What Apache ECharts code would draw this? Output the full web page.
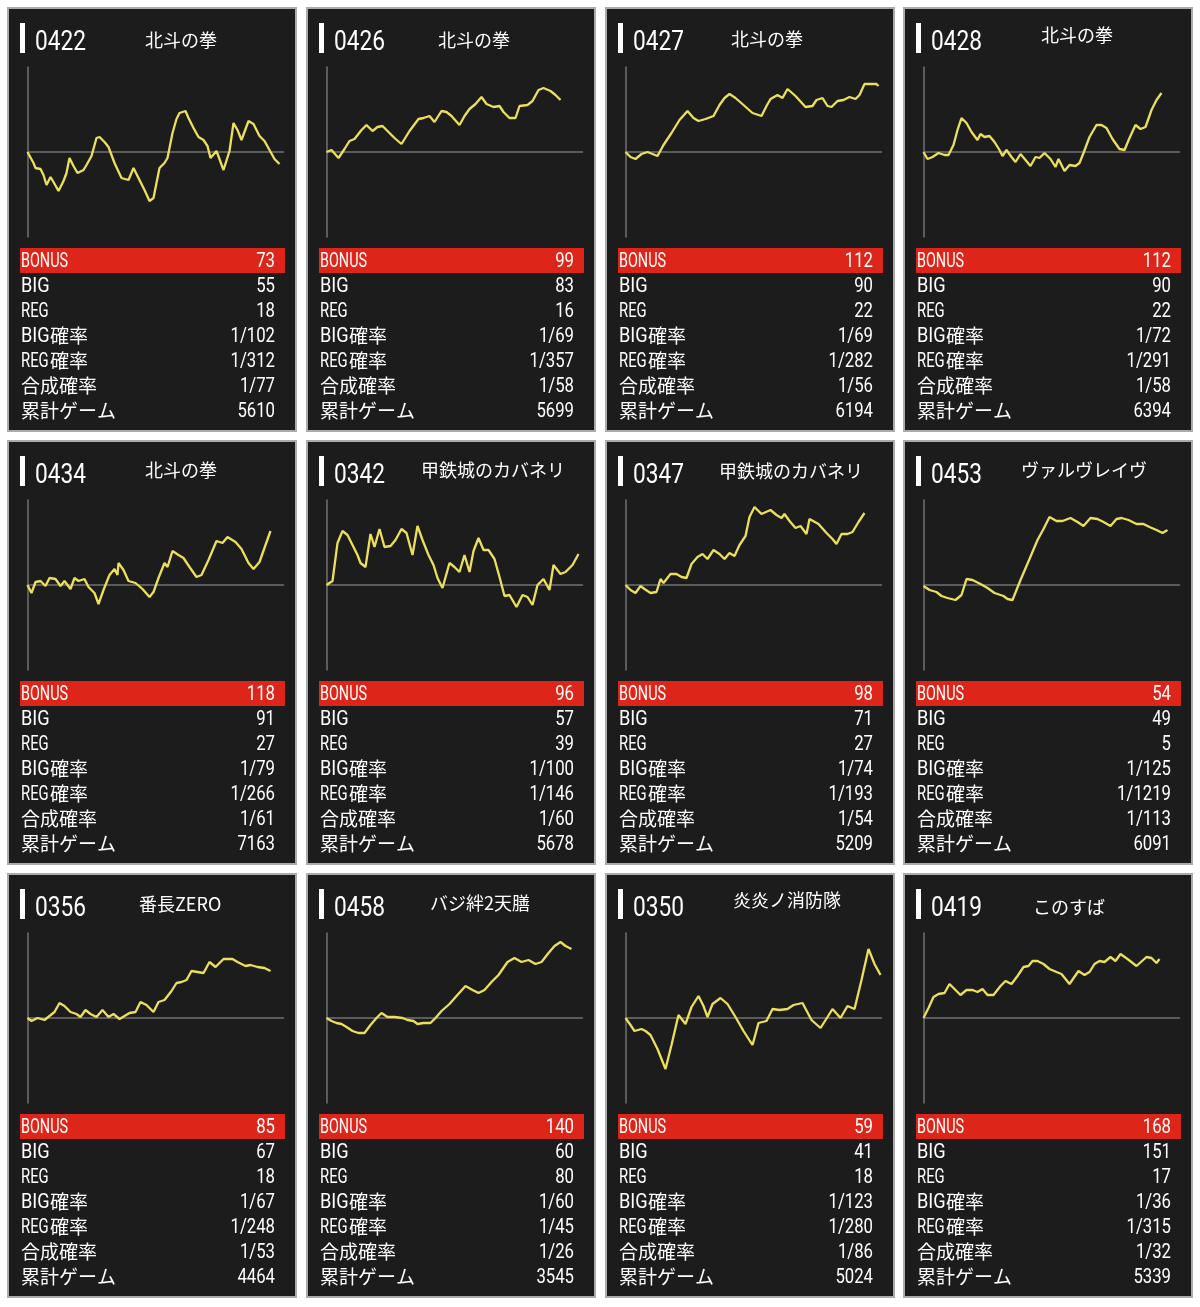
<!DOCTYPE html>
<html><head><meta charset="utf-8">
<script src="https://cdn.jsdelivr.net/npm/echarts@6/dist/echarts.min.js"></script>
<style>html,body{margin:0;padding:0;background:#fff}#c{width:1200px;height:1307px}</style>
</head><body><div id="c"></div>
<script>
// ---- data ----
const machineIds = ['0422','0426','0427','0428','0434','0342','0347','0453','0356','0458','0350','0419'];
const machineNames = ['北斗の拳','北斗の拳','北斗の拳','北斗の拳','北斗の拳','甲鉄城のカバネリ','甲鉄城のカバネリ','ヴァルヴレイヴ','番長ZERO','バジ絆2天膳','炎炎ノ消防隊','このすば'];
const bonusCounts = [73,99,112,112,118,96,98,54,85,140,59,168];
const bigCounts = [55,83,90,90,91,57,71,49,67,60,41,151];
const regCounts = [18,16,22,22,27,39,27,5,18,80,18,17];
const bigRateDen = [102,69,69,72,79,100,74,125,67,60,123,36];
const regRateDen = [312,357,282,291,266,146,193,1219,248,45,280,315];
const totalRateDen = [77,58,56,58,61,60,54,113,53,26,86,32];
const totalGames = [5610,5699,6194,6394,7163,5678,5209,6091,4464,3545,5024,5339];
const rowLabels = [['BONUS',''],['BIG',''],['REG',''],['BIG','確率'],['REG','確率'],['','合成確率'],['','累計ゲーム']];

// slump lines: [progress, difference]
const line0422 = [[0,0],[6,-11],[8,-16],[13,-17],[16,-23],[19,-33],[23,-25],[26,-30],[31,-39],[36,-29],[39,-21],[42,-6],[46,-14],[50,-21],[56,-18],[59,-13],[64,-4],[69,14],[72,15],[77,10],[81,5],[87,-11],[94,-26],[101,-28],[106,-16],[112,-28],[117,-38],[122,-49],[126,-46],[132,-16],[137,-11],[140,-6],[145,19],[149,33],[152,39],[158,41],[161,34],[166,24],[171,15],[176,12],[180,6],[183,-6],[189,1],[196,-18],[202,1],[206,29],[210,22],[214,12],[221,31],[226,28],[232,16],[237,11],[242,2],[247,-7],[252,-12]];
const line0426 = [[0,0],[5,2],[12,-6],[18,3],[23,11],[28,13],[35,22],[40,27],[46,21],[51,25],[56,26],[63,19],[68,14],[75,8],[83,21],[92,33],[97,34],[103,36],[108,30],[115,41],[120,40],[125,36],[133,27],[138,36],[143,43],[149,48],[155,55],[160,48],[167,45],[173,46],[177,40],[183,34],[189,34],[193,46],[201,47],[206,51],[212,62],[217,64],[224,61],[229,57],[234,52]];
const line0427 = [[0,0],[5,-5],[10,-7],[16,-2],[22,0],[27,-2],[32,-4],[38,7],[46,19],[54,32],[62,41],[68,34],[73,31],[80,33],[88,36],[94,47],[99,54],[104,58],[110,54],[118,47],[127,39],[136,36],[141,46],[145,53],[152,57],[157,54],[162,63],[170,56],[180,45],[187,46],[191,52],[197,54],[202,46],[206,45],[212,51],[218,52],[224,55],[230,53],[234,57],[239,68],[247,68],[251,68],[253,66]];
const line0428 = [[0,0],[4,-7],[9,-5],[15,-1],[21,-3],[25,-3],[30,7],[34,22],[38,34],[43,29],[48,20],[54,12],[57,18],[61,15],[66,16],[71,10],[76,2],[79,-4],[83,2],[88,-5],[92,-10],[97,-2],[102,-8],[107,-14],[112,-5],[116,-6],[121,-1],[127,-7],[132,-15],[135,-7],[141,-19],[146,-13],[152,-14],[156,-11],[160,-1],[166,15],[173,27],[178,27],[183,24],[189,13],[196,3],[201,2],[206,14],[212,27],[217,23],[222,25],[228,42],[233,52],[238,59]];
const line0434 = [[0,0],[4,-8],[8,3],[13,4],[18,-1],[22,7],[28,6],[33,-1],[37,4],[43,-4],[47,7],[51,4],[57,6],[61,-2],[67,-8],[71,-19],[76,-5],[82,10],[87,16],[90,10],[91,22],[96,15],[101,4],[108,2],[115,-4],[122,-12],[126,-7],[131,7],[137,22],[140,18],[145,34],[151,30],[156,27],[162,18],[169,8],[174,10],[181,25],[189,44],[195,42],[200,48],[208,43],[214,36],[221,22],[226,16],[232,23],[238,40],[243,54]];
const line0342 = [[0,0],[6,4],[11,42],[16,54],[21,50],[26,40],[31,30],[34,22],[39,18],[44,51],[48,38],[53,56],[58,38],[64,39],[69,45],[75,56],[80,52],[86,30],[91,59],[96,45],[102,30],[107,20],[111,7],[116,-3],[123,22],[128,18],[133,13],[138,30],[143,13],[147,34],[152,47],[157,35],[162,35],[168,26],[173,8],[178,-11],[183,-10],[190,-22],[196,-10],[201,-12],[206,-20],[211,0],[217,6],[223,-5],[227,20],[234,11],[239,13],[246,20],[252,31]];
const line0347 = [[0,0],[5,-5],[10,-8],[15,-1],[19,-4],[25,-8],[31,-7],[35,6],[38,2],[45,11],[51,11],[56,8],[61,7],[66,21],[72,28],[77,31],[82,26],[88,35],[94,31],[99,26],[104,32],[109,29],[114,40],[120,49],[124,68],[129,78],[136,71],[145,75],[151,70],[156,67],[159,71],[164,64],[170,57],[175,59],[181,51],[184,66],[193,61],[201,52],[207,46],[211,41],[216,51],[222,51],[227,53],[233,63],[239,72]];
const line0453 = [[0,-1],[6,-5],[13,-7],[18,-11],[24,-13],[32,-15],[38,-10],[43,6],[49,5],[57,1],[64,-3],[71,-8],[80,-11],[84,-14],[89,-15],[97,5],[106,26],[114,45],[120,56],[126,68],[133,64],[139,64],[147,67],[154,63],[160,59],[167,67],[174,66],[180,63],[187,59],[193,66],[198,67],[205,65],[213,61],[220,61],[226,58],[233,55],[239,52],[244,55]];
const line0356 = [[0,0],[4,-3],[10,0],[17,-2],[22,2],[27,6],[32,15],[37,12],[43,6],[49,4],[53,1],[58,8],[63,4],[69,1],[75,8],[81,1],[86,4],[92,-1],[97,2],[102,5],[108,6],[113,16],[119,13],[126,6],[131,16],[137,18],[144,27],[149,35],[154,36],[159,38],[164,47],[170,46],[176,45],[182,56],[188,51],[196,59],[201,59],[205,59],[210,56],[218,52],[223,53],[230,51],[237,50],[243,47]];
const line0458 = [[0,0],[5,-3],[10,-5],[15,-6],[20,-9],[26,-13],[32,-15],[38,-15],[44,-7],[50,0],[55,5],[61,1],[68,1],[76,0],[81,-2],[87,-3],[91,-6],[97,-5],[104,-5],[109,0],[115,7],[123,14],[130,22],[139,32],[146,28],[152,25],[158,28],[165,36],[172,43],[181,56],[188,60],[195,56],[202,58],[209,54],[215,56],[222,65],[228,72],[234,76],[239,72],[245,69]];
const line0350 = [[0,0],[5,-7],[9,-13],[16,-11],[20,-13],[25,-17],[32,-31],[40,-51],[46,-27],[53,3],[60,-6],[66,11],[73,22],[78,12],[82,1],[87,14],[95,20],[102,14],[110,1],[118,-13],[127,-27],[133,-5],[141,-3],[147,9],[154,8],[162,9],[168,13],[177,15],[186,-2],[195,-10],[202,1],[207,9],[215,0],[222,12],[229,9],[236,38],[243,69],[249,54],[255,43]];
const line0419 = [[0,0],[5,10],[10,21],[15,24],[21,25],[26,34],[32,28],[37,23],[43,28],[49,28],[54,26],[59,29],[64,23],[70,23],[77,32],[82,37],[88,34],[94,42],[100,51],[105,52],[109,57],[114,57],[120,54],[126,49],[133,46],[138,44],[146,34],[155,47],[161,43],[166,46],[171,54],[176,57],[181,56],[187,61],[192,57],[197,64],[204,59],[213,52],[223,61],[228,60],[233,55],[236,59]];
const slumpLines = [line0422,line0426,line0427,line0428,line0434,line0342,line0347,line0453,line0356,line0458,line0350,line0419];

// ---- layout / style ----
const colLefts = [8,307,606,904], rowTops = [8,441,874];
const panelW = 288, panelH = 423;
const nameOffX = [137,131,125,137,137,114,113,117,131,123,127,129];
const nameOffY = [32,32,31,27,29,29,30,29,30,29,26,33];
const LATF = 'Roboto, "DejaVu Sans Condensed", sans-serif';
const CJK = '"Noto Sans CJK JP","Noto Sans CJK SC",sans-serif';
const rowY0 = 252, rowStep = 25;

// condensed look: horizontal scale computed from measured glyph widths
const mctx = document.createElement('canvas').getContext('2d');
function textW(t, font){ mctx.font = font; return mctx.measureText(t).width; }
const valFont = '21px ' + LATF, titleFont = '28px ' + LATF;
const valScale = 9.4 / textW('0', valFont);
const titleScale = 12.75 / textW('0', titleFont);
const labelTargetW = {BONUS:47, BIG:28.7, REG:27.7};
const labelScale = {};
Object.keys(labelTargetW).forEach(k => { labelScale[k] = labelTargetW[k] / textW(k, valFont); });

const graphic = [], grid = [], xAxis = [], yAxis = [], series = [];
machineIds.forEach((id, i) => {
  const L = colLefts[i % 4], T = rowTops[Math.floor(i / 4)];
  graphic.push({type:'rect', z:0, shape:{x:L, y:T, width:panelW, height:panelH}, style:{fill:'#1c1c1c', stroke:'#ababab', lineWidth:2}});
  graphic.push({type:'rect', z:1, shape:{x:L+12, y:T+15, width:5, height:30}, style:{fill:'#ffffff'}});
  graphic.push({type:'text', z:5, x:L+27, y:T+35, scaleX:titleScale, style:{text:id, font:titleFont, fill:'#ffffff', align:'left', verticalAlign:'middle'}});
  graphic.push({type:'text', z:5, x:L+nameOffX[i], y:T+nameOffY[i], style:{text:machineNames[i], font:'18px '+CJK, fill:'#ffffff', align:'left', verticalAlign:'middle'}});
  graphic.push({type:'rect', z:1, shape:{x:L+12, y:T+240, width:265, height:25}, style:{fill:'#de2519'}});
  const values = [bonusCounts[i], bigCounts[i], regCounts[i], '1/'+bigRateDen[i], '1/'+regRateDen[i], '1/'+totalRateDen[i], totalGames[i]];
  rowLabels.forEach((lab, r) => {
    const cy = T + rowY0 + r * rowStep;
    let x = L + 13;
    if (lab[0]) {
      graphic.push({type:'text', z:5, x:x, y:cy+2, scaleX:labelScale[lab[0]], style:{text:lab[0], font:valFont, fill:'#ffffff', align:'left', verticalAlign:'middle'}});
      x += 29;
    }
    if (lab[1]) {
      graphic.push({type:'text', z:5, x:x, y:cy+1, style:{text:lab[1], font:'19px '+CJK, fill:'#ffffff', align:'left', verticalAlign:'middle'}});
    }
    graphic.push({type:'text', z:5, x:L+267, y:cy+2, scaleX:valScale, style:{text:String(values[r]), font:valFont, fill:'#ffffff', align:'right', verticalAlign:'middle'}});
  });
  grid.push({left:L+19.5, top:T+59, width:256, height:170, containLabel:false});
  const axLine = {show:true, lineStyle:{color:'#707070', width:1.5}};
  xAxis.push({type:'value', gridIndex:i, min:0, max:256, z:3,
    axisLine:Object.assign({onZero:true}, axLine), axisTick:{show:false}, axisLabel:{show:false}, splitLine:{show:false}});
  yAxis.push({type:'value', gridIndex:i, min:-85, max:85, z:3,
    axisLine:Object.assign({onZero:false}, axLine), axisTick:{show:false}, axisLabel:{show:false}, splitLine:{show:false}});
  series.push({type:'line', xAxisIndex:i, yAxisIndex:i, data:slumpLines[i], symbol:'none', z:4,
    lineStyle:{color:'#ebdf5c', width:2.3}, silent:true});
});

const chart = echarts.init(document.getElementById('c'));
chart.setOption({backgroundColor:'#ffffff', animation:false, graphic:graphic, grid:grid, xAxis:xAxis, yAxis:yAxis, series:series});
</script></body></html>
